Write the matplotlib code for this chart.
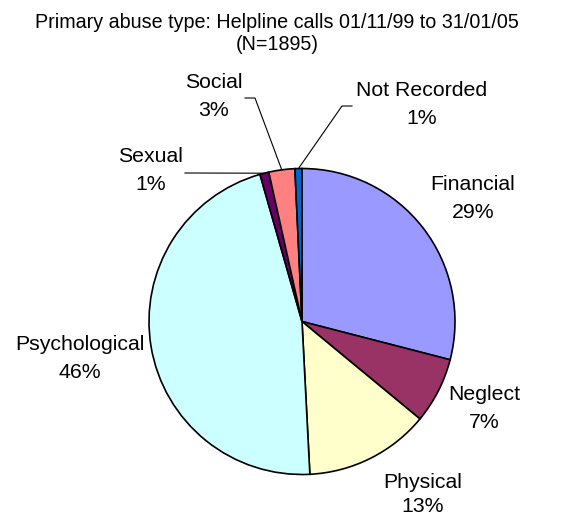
import matplotlib
matplotlib.use("Agg")
import matplotlib.pyplot as plt
import numpy as np

# Data
categories = ["Financial", "Neglect", "Physical", "Psychological", "Sexual", "Social", "Not Recorded"]
counts = [550, 132, 250, 879, 18, 52, 14]
colors = ["#9999FF", "#993366", "#FFFFCC", "#CCFFFF", "#660066", "#FF8080", "#0066CC"]
title_lines = ["Primary abuse type: Helpline calls 01/11/99 to 31/01/05", "(N=1895)"]

# Layout (pixel coordinates, y measured from top)
W, H = 569, 515
center_px = (302, 321.5)
radius_px = 153
# (x center, baseline of name line, baseline of percent line)
label_pos = [(473, 190.5, 218.5), (484, 400.5, 427.5), (423, 487.5, 511.5),
             (80, 350.5, 377.5), (151, 162.5, 190.5), (214, 88.5, 116.5),
             (422, 96.5, 124.5)]
# leader line elbow points (None = no leader)
leaders = [None, None, None, None, [(185, 173)], [(255, 98), (245, 98)], [(342, 106), (352, 106)]]

plt.rcParams['font.family'] = ['Liberation Sans', 'DejaVu Sans']
fig = plt.figure(figsize=(W / 100, H / 100), dpi=100)
ax = fig.add_axes([0, 0, 1, 1])


def Y(py):
    return H - py


wedges, _ = ax.pie(counts, colors=colors, startangle=90, counterclock=False,
                   center=(center_px[0], Y(center_px[1])), radius=radius_px,
                   wedgeprops=dict(edgecolor='black', linewidth=1.2), frame=True)
ax.set_xlim(0, W)
ax.set_ylim(0, H)
ax.set_aspect('equal')
ax.axis('off')

total = sum(counts)
fs = 15.3
for w, name, c, pos, ld in zip(wedges, categories, counts, label_pos, leaders):
    pct = round(100 * c / total)
    ax.text(pos[0], Y(pos[1]), name, ha='center', va='baseline', fontsize=fs, color='black')
    ax.text(pos[0], Y(pos[2]), f"{pct}%", ha='center', va='baseline', fontsize=fs, color='black')
    if ld is not None:
        mid = np.deg2rad((w.theta1 + w.theta2) / 2)
        sx = center_px[0] + radius_px * np.cos(mid)
        sy = Y(center_px[1]) + radius_px * np.sin(mid)
        xs = [sx] + [p[0] for p in ld]
        ys = [sy] + [Y(p[1]) for p in ld]
        ax.plot(xs, ys, color='black', linewidth=0.8)

ax.text(277, Y(28), title_lines[0], ha='center', va='baseline', fontsize=14.2)
ax.text(277, Y(50), title_lines[1], ha='center', va='baseline', fontsize=14.2)

fig.savefig("out.png", dpi=100, facecolor='white')
